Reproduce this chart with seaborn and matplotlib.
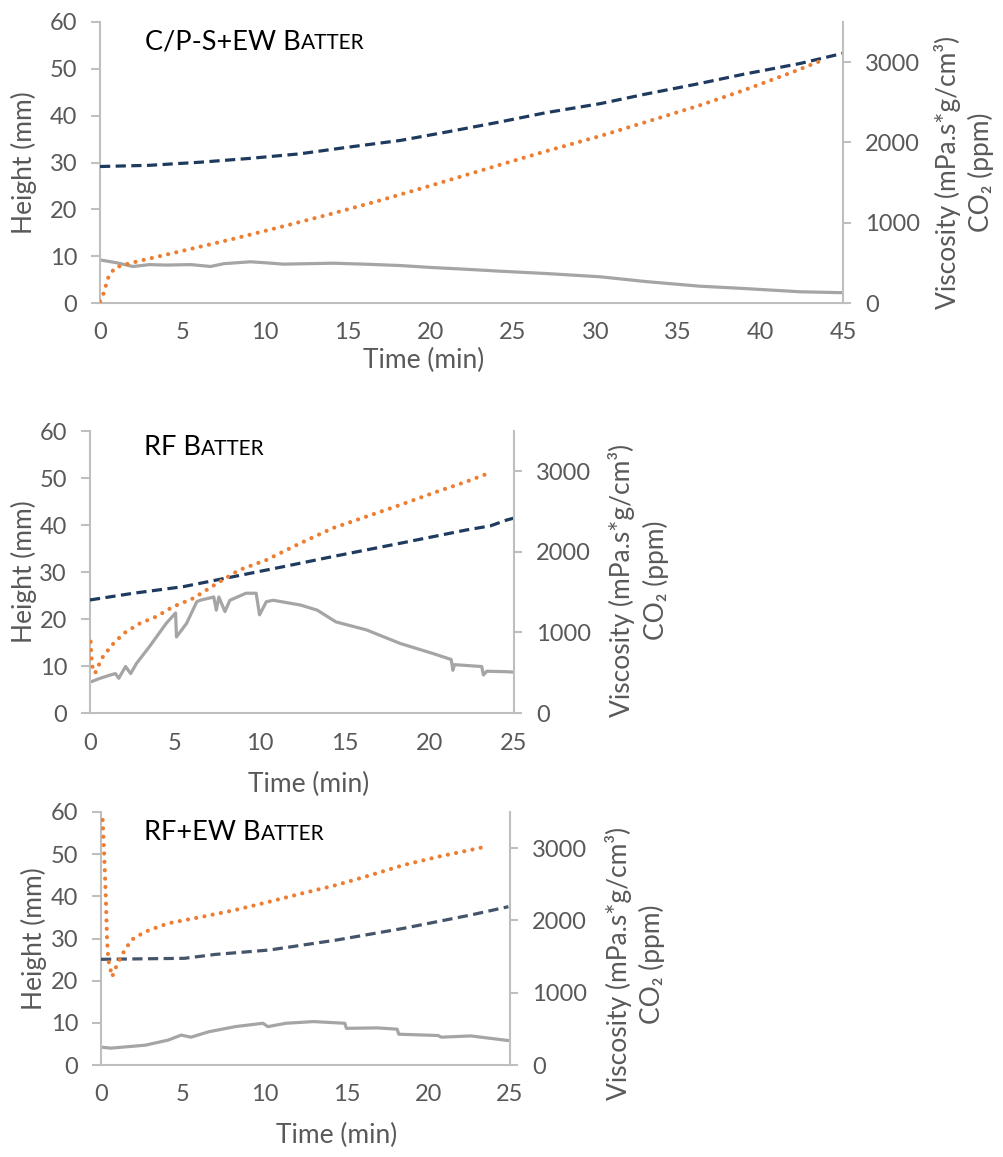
import seaborn as sns
import matplotlib.pyplot as plt
from matplotlib.offsetbox import TextArea, HPacker, AnchoredOffsetbox

# ---- C/P-S+EW batter ----
th1 = [0, 1, 2.0, 3, 4.0, 5.5, 6.7, 7.5, 9.1, 10, 11.1, 14.1, 16, 18.2, 20, 22.2,
       24.2, 27, 30.3, 33, 36.3, 39, 42.4, 45]
h1 = [9.2, 8.6, 7.8, 8.2, 8.1, 8.2, 7.8, 8.4, 8.8, 8.6, 8.3, 8.5, 8.3, 8.0, 7.6, 7.2,
      6.8, 6.3, 5.6, 4.6, 3.6, 3.1, 2.4, 2.2]
tv1 = [0, 3, 6.1, 9, 12.1, 15, 18.2, 21, 24.2, 27, 30.3, 33, 36.3, 39, 42.4, 45]
v1 = [1700, 1715, 1754, 1800, 1858, 1940, 2025, 2130, 2254, 2370, 2483, 2600, 2733,
      2850, 2983, 3110]
tc1 = [0, 0.2, 0.5, 0.9, 1.6, 2.4, 5, 8, 11, 14, 17, 20, 24.2, 27, 30.3, 33, 36.3,
       39, 42, 43.6]
c1 = [20, 110, 316, 441, 483, 525, 650, 795, 950, 1110, 1280, 1460, 1720, 1890, 2080,
      2250, 2460, 2650, 2880, 3012]

# ---- RF batter ----
th2 = [0.1, 0.6, 1.2, 1.5, 1.7, 2.1, 2.4, 2.75, 3.5, 4.5, 5.05, 5.1, 5.7, 6.3, 6.5,
       7.3, 7.45, 7.6, 7.96, 8.25, 9.2, 9.8, 10.0, 10.4, 10.8, 12.4, 13.4, 14.5, 16.3,
       18.3, 20.2, 21.3, 21.4, 21.5, 23.1, 23.2, 23.4, 24.6, 25]
h2 = [6.7, 7.4, 8.1, 8.4, 7.4, 9.9, 8.4, 10.6, 14.1, 19.1, 21.3, 16.2, 19.1, 23.7, 24.0,
      24.7, 21.9, 24.7, 21.6, 24.0, 25.5, 25.5, 20.9, 23.7, 24.0, 23.0, 21.9, 19.4, 17.7,
      14.8, 12.7, 11.4, 9.1, 10.3, 9.9, 8.1, 8.9, 8.8, 8.7]
tv2 = [0, 2.55, 5.5, 8.45, 11.4, 14.3, 18.3, 22.2, 23.6, 24.6, 25]
v2 = [1404, 1487, 1569, 1693, 1817, 1942, 2108, 2273, 2323, 2398, 2420]
tc2 = [0.04, 0.1, 0.15, 0.3, 0.7, 1.3, 2.0, 2.95, 3.9, 4.9, 6.1, 7.5, 8.8, 10.4, 12.4,
       14.3, 16.3, 18.3, 20.2, 22.2, 23.6]
c2 = [886, 658, 575, 493, 680, 845, 990, 1114, 1196, 1320, 1425, 1611, 1776, 1900, 2108,
      2294, 2439, 2584, 2729, 2873, 2985]

# ---- RF+EW batter ----
th3 = [0.1, 0.6, 2.7, 4.1, 4.9, 5.5, 6.6, 8.2, 9.9, 10.2, 11.3, 13.0, 14.9, 15.0, 16.9,
       18.1, 18.2, 20.6, 20.8, 22.6, 24.9]
h3 = [4.2, 4.0, 4.7, 5.9, 7.1, 6.6, 7.9, 9.1, 9.9, 9.1, 9.9, 10.3, 9.9, 8.7, 8.8,
      8.5, 7.3, 7.0, 6.6, 6.9, 5.8]
tv3 = [0, 5.1, 7, 10.3, 14.4, 18.5, 22.6, 24.9]
v3 = [1462, 1476, 1530, 1591, 1729, 1891, 2075, 2190]
tc3 = [0.1, 0.2, 0.3, 0.37, 0.45, 0.68, 0.93, 1.34, 1.85, 2.7, 4.1, 6.2, 8.2, 10.3,
       12.3, 14.4, 16.5, 18.5, 20.6, 23.5]
c3 = [3389, 2881, 2282, 1729, 1452, 1221, 1360, 1545, 1729, 1844, 1960, 2051, 2144,
      2259, 2375, 2490, 2628, 2766, 2881, 3019]

titles = [("C/P-S+EW B", "ATTER"), ("RF B", "ATTER"), ("RF+EW B", "ATTER")]
height_label = "Height (mm)"
right_label = "Viscosity (mPa.s*g/cm³)\nCO₂ (ppm)"
time_label = "Time (min)"

GRAY = "#A5A5A5"
ORANGE = "#ED7D31"
AXIS = "#BFBFBF"
TXT = "#595959"

sns.set_theme(style="white")
plt.rcParams['font.family'] = ['Lato', 'DejaVu Sans']

fig = plt.figure(figsize=(10.04, 11.57), dpi=100)


def draw_panel(rect, xmax, th, h, tv, v, tc, c, vcolor, title,
               xlab, ylab_x, rlab, title_xy):
    ax = fig.add_axes(rect)
    ax2 = ax.twinx()
    sns.lineplot(x=th, y=h, ax=ax, color=GRAY, lw=2.3, estimator=None, sort=False)
    sns.lineplot(x=tv, y=v, ax=ax2, color=vcolor, lw=2.3, linestyle=(0, (3.2, 1.7)),
                 estimator=None, sort=False)
    sns.lineplot(x=tc, y=c, ax=ax2, color=ORANGE, lw=3.0, linestyle=(0, (0.01, 2.0)),
                 dash_capstyle='round', estimator=None, sort=False)

    ax.set_xlim(0, xmax)
    ax.set_ylim(0, 60)
    ax2.set_ylim(0, 3500)
    ax.set_xticks(range(0, xmax + 1, 5))
    ax.set_yticks(range(0, 61, 10))
    ax2.set_yticks([0, 1000, 2000, 3000])

    for s in ['top', 'right']:
        ax.spines[s].set_visible(False)
    for s in ['top', 'left', 'bottom']:
        ax2.spines[s].set_visible(False)
    for s in ['left', 'bottom']:
        ax.spines[s].set_color(AXIS)
        ax.spines[s].set_linewidth(1.5)
    ax2.spines['right'].set_color(AXIS)
    ax2.spines['right'].set_linewidth(1.5)

    ax.tick_params(axis='y', length=6.5, width=1.5, color=AXIS, labelsize=17,
                   labelcolor=TXT, pad=10)
    ax.tick_params(axis='x', length=0, labelsize=17, labelcolor=TXT, pad=14)
    ax2.tick_params(axis='y', length=6, width=1.5, color=AXIS, labelsize=17,
                    labelcolor=TXT, pad=10)

    ax.set_xlabel(time_label, fontsize=19, color=TXT)
    ax.xaxis.set_label_coords(*xlab)
    ax.set_ylabel(height_label, fontsize=19, color=TXT)
    ax.yaxis.set_label_coords(ylab_x, 0.5)
    ax2.set_ylabel(right_label, fontsize=19, color=TXT, linespacing=1.35)
    ax2.yaxis.set_label_coords(*rlab)

    t1 = TextArea(title[0], textprops=dict(fontsize=19.5, color='black'))
    t2 = TextArea(title[1], textprops=dict(fontsize=15, color='black'))
    box = HPacker(children=[t1, t2], align='baseline', pad=0, sep=0)
    anch = AnchoredOffsetbox(loc='upper left', child=box, pad=0, borderpad=0,
                             frameon=False, bbox_to_anchor=title_xy,
                             bbox_transform=ax.transAxes)
    ax2.add_artist(anch)


draw_panel([0.0996, 0.7381, 0.740, 0.2429], 45, th1, h1, tv1, v1, tc1, c1,
           "#1F3A5F", titles[0], (0.436, -0.158), -0.085, (1.122, 0.466),
           (0.0606, 0.975))
draw_panel([0.0896, 0.3837, 0.4223, 0.2437], 25, th2, h2, tv2, v2, tc2, c2,
           "#1F3A5F", titles[1], (0.516, -0.21), -0.125, (1.222, 0.47),
           (0.127, 0.986))
draw_panel([0.1006, 0.0795, 0.4074, 0.2187], 25, th3, h3, tv3, v3, tc3, c3,
           "#44546A", titles[2], (0.575, -0.228), -0.132, (1.232, 0.40),
           (0.105, 0.968))

fig.savefig("out.png", dpi=100)
